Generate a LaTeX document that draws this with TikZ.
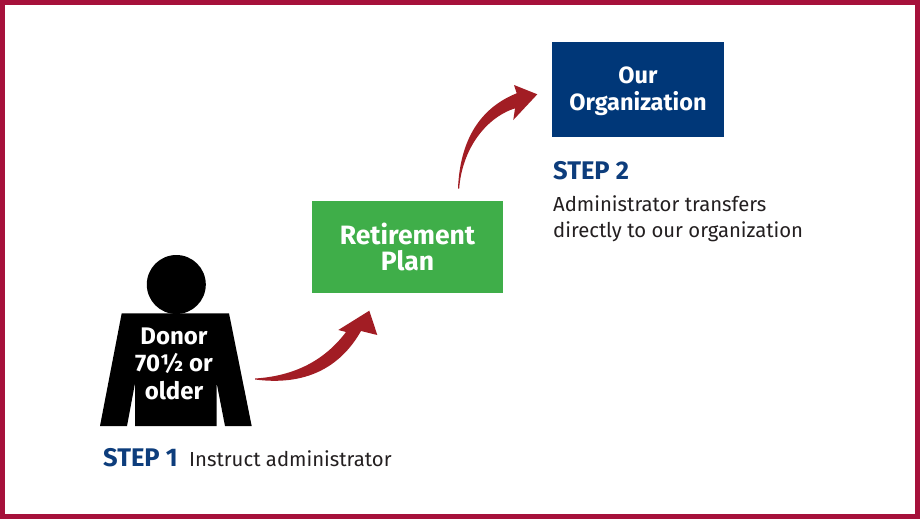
\documentclass[tikz,border=0pt]{standalone}
\usepackage{fontspec}
\setmainfont{Fira Sans}
\definecolor{frameRed}{HTML}{A6113B}
\definecolor{arrowRed}{HTML}{A21D24}
\definecolor{planGreen}{HTML}{3FAE49}
\definecolor{orgBlue}{HTML}{003778}
\definecolor{stepBlue}{HTML}{0D3D7C}
\definecolor{textBlack}{HTML}{231F20}
\tikzset{
  boxnode/.style={inner sep=0pt, align=center, text=white,
    font=\bfseries\fontsize{26.5}{26}\selectfont},
  steptitle/.style={anchor=base west, inner sep=0pt, text=stepBlue,
    font=\bfseries\fontsize{25.5}{26}\selectfont},
  steptext/.style={anchor=base west, inner sep=0pt, text=textBlack,
    font=\fontsize{20.3}{26}\selectfont},
  bigarrow/.style={fill=arrowRed}
}
\begin{document}
\begin{tikzpicture}[x=1pt,y=-1pt]
\useasboundingbox (0,0) rectangle (920,519);
\fill[white] (0,0) rectangle (920,519);
\draw[frameRed, line width=5pt] (2.5,2.5) rectangle (917.5,516.5);

% boxes
\node[boxnode, fill=planGreen, minimum width=191pt, minimum height=92pt] (plan) at (407.5,247) {Retirement\\Plan};
\node[boxnode, fill=orgBlue, minimum width=172pt, minimum height=95pt] (org) at (638,89.5) {};
\node[boxnode, font=\bfseries\fontsize{23.5}{27}\selectfont] (orgtext) at (638,91.5) {Our\\Organization};

% donor figure
\fill[black] (121.7,313.3) -- (229,313.3) -- (251.7,426) -- (225,426) -- (216.7,383.3) -- (216.7,426)
  -- (135,426) -- (135,383.3) -- (127,426) -- (100,426) -- cycle;
\fill[black] (176.3,284.5) circle[radius=29.5pt];
\node[boxnode, font=\bfseries\fontsize{24}{27.5}\selectfont] (donor) at (174,363.5) {Donor\\70½ or\\older};

% arrows
\fill[bigarrow] (255,378.5) .. controls (295,376) and (325,360) .. (346,332)
  -- (338.3,330) -- (369.3,310.7) -- (377.3,335) -- (361,331)
  .. controls (340,368) and (305,386) .. (255,379.5) -- cycle;
\fill[bigarrow] (458,188.5) .. controls (460,140) and (480,108) .. (516.7,93.3)
  -- (514,85) -- (537.3,94.3) -- (513.3,120) -- (515,108.3)
  .. controls (485,118) and (462,150) .. (459.2,188.5) -- cycle;

% step texts
\node[steptitle] (s2) at (553,179) {STEP 2};
\node[steptext] (s2a) at (553,211) {Administrator transfers};
\node[steptext] (s2b) at (553,237) {directly to our organization};
\node[steptitle] (s1) at (103,466) {STEP 1};
\node[steptext] (s1a) at (189,466) {Instruct administrator};
\end{tikzpicture}
\end{document}
